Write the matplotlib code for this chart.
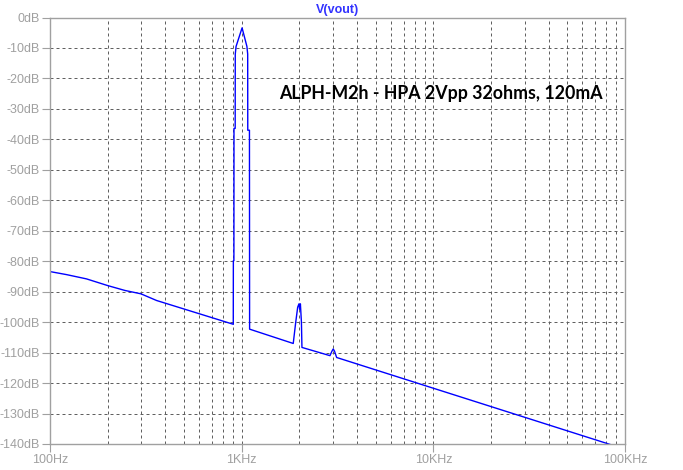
import numpy as np
import matplotlib
matplotlib.use("Agg")
import matplotlib.pyplot as plt
from matplotlib.ticker import NullFormatter, LogLocator

# FFT of V(vout) (Hz, dB)
freq = [100, 122, 155, 200, 246, 298, 360, 904,
        905, 911, 912, 925, 926, 935, 1005, 1065, 1075, 1076, 1098, 1100,
        1858, 1913, 1960, 1990, 2008, 2025, 2050, 2063,
        2888, 2960, 3004, 3050, 3130, 85100]
level = [-83.4, -84.4, -85.8, -88.0, -89.6, -90.7, -92.9, -100.7,
         -79.8, -79.8, -36.4, -36.4, -12.0, -9.5, -3.4, -9.5, -12.0, -37.0, -37.0, -102.3,
         -107.0, -100.2, -95.1, -94.0, -95.8, -94.0, -100.0, -108.3,
         -111.0, -109.5, -108.8, -109.5, -111.6, -140.3]

y_ticks = list(range(0, -150, -10))
y_labels = ["%ddB" % v for v in y_ticks]
x_ticks = [100, 1000, 10000, 100000]
x_labels = ["100Hz", "1KHz", "10KHz", "100KHz"]
note = "ALPH-M2h - HPA 2Vpp 32ohms, 120mA"

gray = "#a0a0a0"
fig = plt.figure(figsize=(6.83, 4.70), dpi=100)
ax = fig.add_axes([50 / 683, 1 - 444 / 470, 575 / 683, 426.5 / 470])

ax.semilogx(freq, level, color="#0000ff", lw=1.0)

ax.set_xlim(100, 100000)
ax.set_ylim(-140, 0)
ax.set_yticks(y_ticks)
ax.set_yticklabels(y_labels)
ax.set_xticks(x_ticks)
ax.set_xticklabels(x_labels)
ax.xaxis.set_minor_locator(LogLocator(base=10, subs=np.arange(2, 10)))
ax.xaxis.set_minor_formatter(NullFormatter())

ax.grid(True, which="both", axis="x", color="#606060", lw=0.72, linestyle=(0, (3, 3)))
ax.grid(True, which="major", axis="y", color="#606060", lw=0.72, linestyle=(0, (3, 3)))
ax.tick_params(axis="x", which="minor", length=0)
ax.tick_params(axis="both", which="major", length=6, width=0.8, color=gray,
               labelcolor=gray, labelsize=9, pad=1.5)
for s in ax.spines.values():
    s.set_color(gray)
    s.set_linewidth(1.0)
for lab in ax.get_xticklabels() + ax.get_yticklabels():
    lab.set_family(["Liberation Sans", "DejaVu Sans"])

ax.set_title("V(vout)", color="#3333ff", fontsize=9, fontweight="bold",
             family=["Liberation Sans", "DejaVu Sans"], pad=3)
ax.text(1565, -25, note, fontsize=12.8, fontweight="bold", family=["Lato", "DejaVu Sans"],
        ha="left", va="center")

fig.savefig("out.png", dpi=100)
